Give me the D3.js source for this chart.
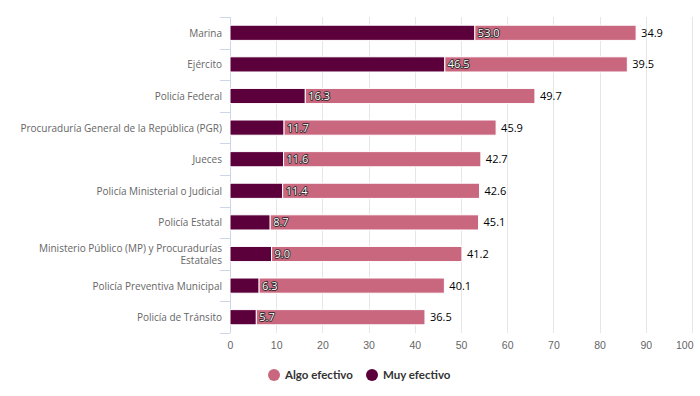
<!DOCTYPE html>
<html>
<head>
<meta charset="utf-8">
<script src="https://cdn.jsdelivr.net/npm/d3@7"></script>
<style>
  body { margin: 0; background: #fff; }
  svg { display: block; font-family: "Open Sans", sans-serif; }
  .grid line { stroke: #e6e6e6; }
  .x-axis text { fill: #666; font-size: 10.5px; }
  .y-label { fill: #666; font-size: 10px; }
  .label-dark { font-size: 11px; fill: #fff; stroke: #222; stroke-width: 1.6px; paint-order: stroke; stroke-linejoin: round; }
  .label-total { font-size: 11px; fill: #000; }
  .legend text { font-family: Lato, sans-serif; font-weight: bold; font-size: 11.5px; fill: #333; }
</style>
</head>
<body>
<div id="chart-container"></div>
<script>
const categories = [
  'Marina',
  'Ejército',
  'Policía Federal',
  'Procuraduría General de la República (PGR)',
  'Jueces',
  'Policía Ministerial o Judicial',
  'Policía Estatal',
  'Ministerio Público (MP) y Procuradurías Estatales',
  'Policía Preventiva Municipal',
  'Policía de Tránsito',
];
const muyEfectivo = [53.0, 46.5, 16.3, 11.7, 11.6, 11.4, 8.7, 9.0, 6.3, 5.7];
const algoEfectivo = [34.9, 39.5, 49.7, 45.9, 42.7, 42.6, 45.1, 41.2, 40.1, 36.5];
const xTicks = [0, 10, 20, 30, 40, 50, 60, 70, 80, 90, 100];
const seriesNames = ['Algo efectivo', 'Muy efectivo'];
const colors = { algo: '#c9677f', muy: '#5c003b' };

const width = 700;
const height = 396;
const margins = { top: 17, right: 8, bottom: 63, left: 230 };
const innerWidth = width - margins.left - margins.right;
const innerHeight = height - margins.top - margins.bottom;

const svg = d3
  .select('#chart-container')
  .append('svg')
  .attr('width', width)
  .attr('height', height);

const g = svg.append('g').attr('transform', `translate(${margins.left},${margins.top})`);

const x = d3.scaleLinear().domain([0, 100]).range([0, innerWidth]);
const y = d3.scaleBand().domain(categories).range([0, innerHeight]).padding(0);
const barHeight = y.bandwidth() * 0.48;

// Vertical grid lines
g.append('g')
  .attr('class', 'grid')
  .selectAll('line')
  .data(xTicks.filter(t => t > 0))
  .join('line')
  .attr('x1', d => Math.round(x(d)) + 0.5)
  .attr('x2', d => Math.round(x(d)) + 0.5)
  .attr('y1', 0)
  .attr('y2', innerHeight);

// x axis labels only
const xAxis = g
  .append('g')
  .attr('class', 'x-axis')
  .attr('transform', `translate(0,${innerHeight})`)
  .call(d3.axisBottom(x).tickValues(xTicks).tickSize(0).tickPadding(9));
xAxis.select('.domain').remove();
// Keep the last label inside the chart
xAxis
  .selectAll('.tick text')
  .filter(d => d === xTicks[xTicks.length - 1])
  .attr('text-anchor', 'end')
  .attr('dx', 1);

// y axis line and ticks between categories
const yAxis = g.append('g').attr('class', 'y-axis');
yAxis
  .append('line')
  .attr('x1', 0.5)
  .attr('x2', 0.5)
  .attr('y1', 0)
  .attr('y2', innerHeight)
  .attr('stroke', '#ccd6eb');
yAxis
  .selectAll('.tick')
  .data(d3.range(categories.length + 1))
  .join('line')
  .attr('class', 'tick')
  .attr('x1', -10)
  .attr('x2', 0)
  .attr('y1', i => Math.round(i * y.step()) + 0.5)
  .attr('y2', i => Math.round(i * y.step()) + 0.5)
  .attr('stroke', '#ccd6eb');

// Category labels, wrapped when too long
const maxLabelWidth = 205;
categories.forEach(cat => {
  const text = g
    .append('text')
    .attr('class', 'y-label')
    .attr('text-anchor', 'end')
    .attr('x', -8);
  const words = cat.split(' ');
  const lines = [];
  let line = [];
  const probe = text.append('tspan');
  words.forEach(w => {
    probe.text([...line, w].join(' '));
    if (probe.node().getComputedTextLength() > maxLabelWidth && line.length) {
      lines.push(line.join(' '));
      line = [w];
    } else {
      line.push(w);
    }
  });
  lines.push(line.join(' '));
  probe.remove();
  const lh = 12;
  const cy = y(cat) + y.bandwidth() / 2;
  lines.forEach((l, i) => {
    text
      .append('tspan')
      .attr('x', -8)
      .attr('y', cy + 4 - ((lines.length - 1) * lh) / 2 + i * lh)
      .text(l);
  });
});

const rows = categories.map((cat, i) => ({ cat, muy: muyEfectivo[i], algo: algoEfectivo[i] }));
const barY = d => y(d.cat) + (y.bandwidth() - barHeight) / 2;

// Muy efectivo (base)
g.selectAll('.bar-muy')
  .data(rows)
  .join('rect')
  .attr('class', 'bar-muy')
  .attr('x', x(0))
  .attr('y', barY)
  .attr('width', d => x(d.muy) - x(0))
  .attr('height', barHeight)
  .attr('fill', colors.muy)
  .attr('stroke', '#fff')
  .attr('stroke-width', 1);

// Algo efectivo (stacked)
g.selectAll('.bar-algo')
  .data(rows)
  .join('rect')
  .attr('class', 'bar-algo')
  .attr('x', d => x(d.muy))
  .attr('y', barY)
  .attr('width', d => x(d.muy + d.algo) - x(d.muy))
  .attr('height', barHeight)
  .attr('fill', colors.algo)
  .attr('stroke', '#fff')
  .attr('stroke-width', 1);

// Data labels
g.selectAll('.label-dark')
  .data(rows)
  .join('text')
  .attr('class', 'label-dark')
  .attr('x', d => x(d.muy) + 3)
  .attr('y', d => y(d.cat) + y.bandwidth() / 2 + 4)
  .text(d => d.muy.toFixed(1));

g.selectAll('.label-total')
  .data(rows)
  .join('text')
  .attr('class', 'label-total')
  .attr('x', d => x(d.muy + d.algo) + 5)
  .attr('y', d => y(d.cat) + y.bandwidth() / 2 + 4)
  .text(d => d.algo.toFixed(1));

// Legend
const legend = svg.append('g').attr('class', 'legend');
const legendX = [274, 372];
const legendColors = [colors.algo, colors.muy];
seriesNames.forEach((name, i) => {
  legend
    .append('circle')
    .attr('cx', legendX[i])
    .attr('cy', 375)
    .attr('r', 6)
    .attr('fill', legendColors[i]);
  legend
    .append('text')
    .attr('x', legendX[i] + 11)
    .attr('y', 379)
    .text(name);
});
</script>
</body>
</html>
